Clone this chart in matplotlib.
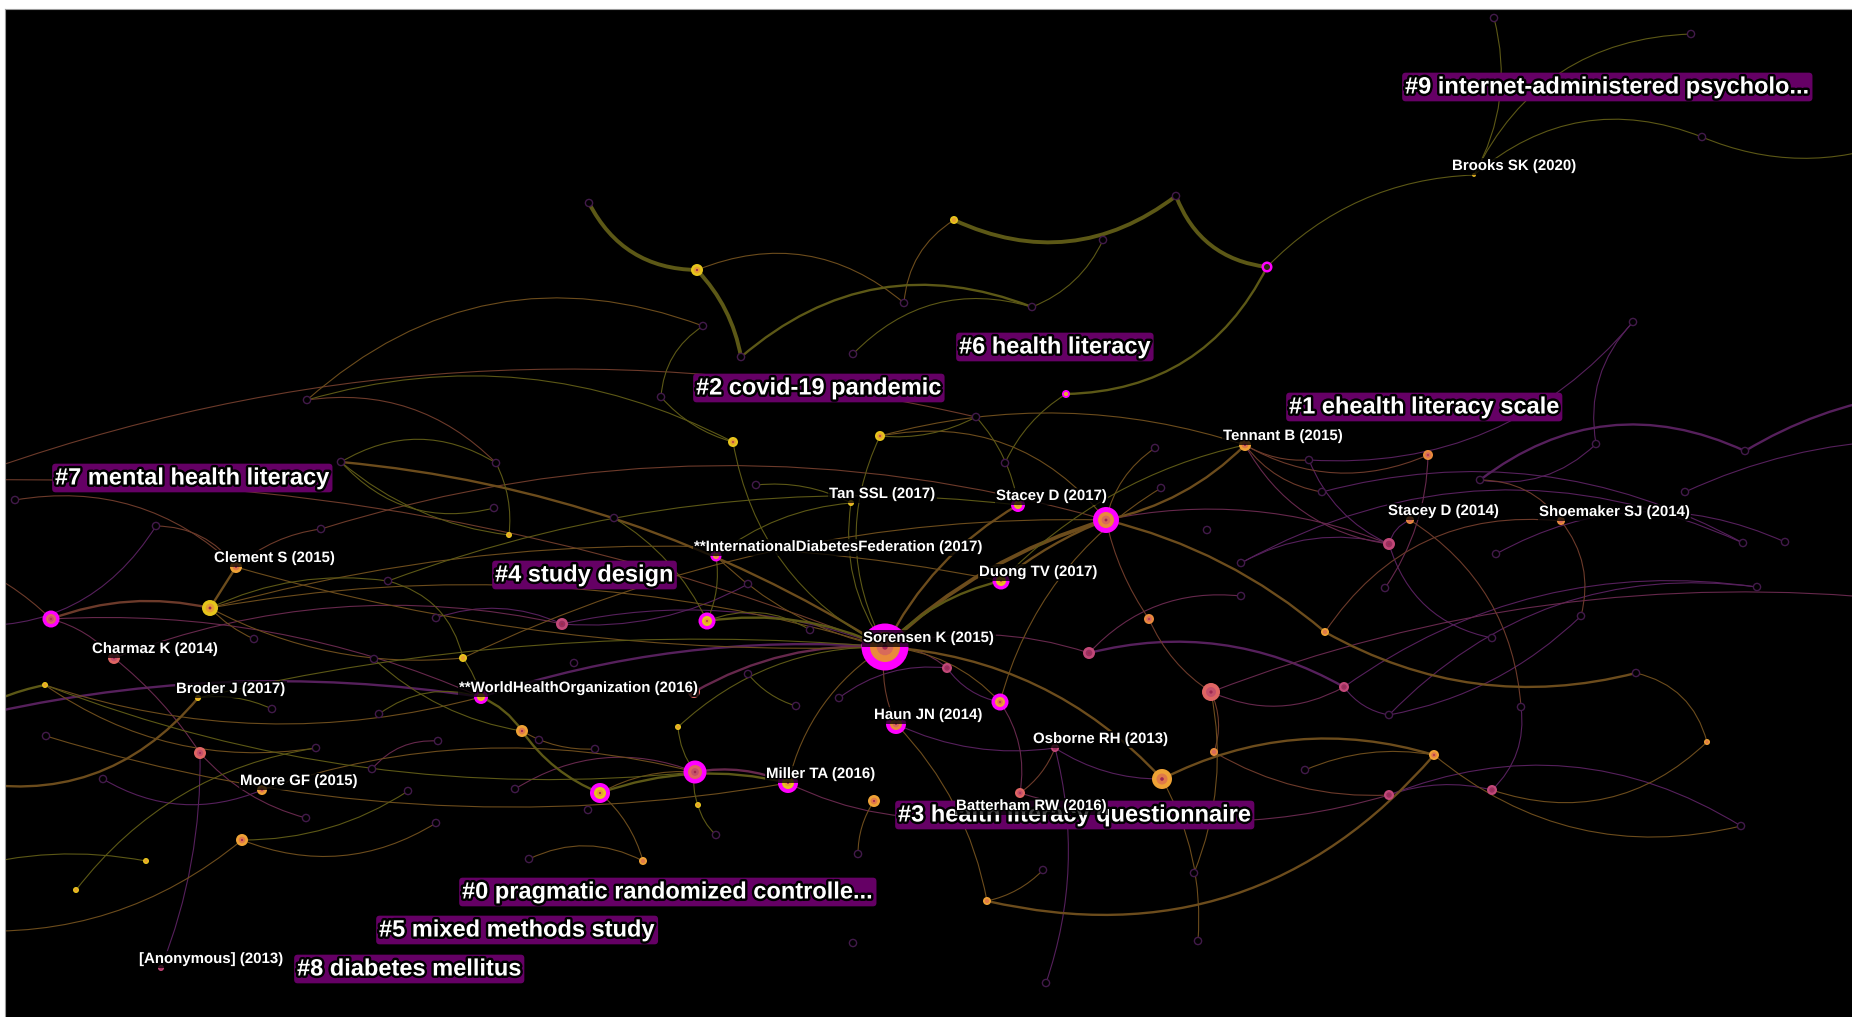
import matplotlib.pyplot as plt
import matplotlib.patheffects as pe
from matplotlib.patches import Circle, FancyArrowPatch

# ---- cited references (nodes) ----
node_id = ["sor", "cle", "n1", "n2", "cha", "n3", "bro", "n4", "moo", "n5",
           "n6", "n7", "ano", "who", "n8", "n9", "n10", "n11", "n12", "n13",
           "n14", "n15", "n16", "n17", "idf", "tan", "n18", "n19", "n20", "n21",
           "n22", "n23", "sta17", "n24", "duo", "n25", "n26", "n27", "hau", "n28",
           "mil", "n29", "osb", "bat", "n30", "n31", "n32", "n33", "n34", "n35",
           "n36", "n37", "n38", "n39", "n40", "n41", "ten", "n42", "sta14", "n43",
           "sho", "bks"]
node_x = [885, 236, 210, 51, 114, 45, 198, 200, 262, 242,
          146, 76, 161, 481, 463, 522, 600, 678, 698, 695,
          694, 707, 562, 509, 716, 851, 733, 880, 697, 954,
          1267, 1066, 1018, 1106, 1001, 1149, 947, 1000, 896, 1089,
          788, 874, 1055, 978, 1020, 1162, 1211, 1214, 1325, 1344,
          1389, 1434, 1492, 1707, 987, 643, 1245, 1428, 1410, 1389,
          1561, 1474]
node_y = [647, 567, 608, 619, 658, 685, 698, 753, 790, 840,
          861, 890, 968, 697, 658, 731, 793, 727, 805, 772,
          692, 621, 624, 535, 556, 503, 442, 436, 270, 220,
          267, 394, 505, 520, 581, 619, 668, 702, 724, 653,
          783, 801, 748, 815, 793, 779, 692, 752, 632, 687,
          795, 755, 790, 742, 901, 861, 445, 455, 520, 544,
          521, 175]
node_size = [15, 6, 8, 5, 6, 3, 3, 6, 5, 6,
             3, 3, 3, 4, 4, 6, 6, 3, 3, 7,
             6, 5, 6, 3, 3, 3, 5, 5, 6, 4,
             3, 2, 4, 8, 5, 5, 5, 5, 6, 6,
             6, 6, 4, 4, 5, 10, 9, 4, 4, 5,
             5, 5, 5, 3, 4, 4, 6, 5, 4, 6,
             4, 2]
node_year = [2015, 2016, 2017, 2014, 2014, 2017, 2017, 2014, 2016, 2016,
             2017, 2017, 2013, 2017, 2017, 2016, 2017, 2017, 2017, 2014,
             2014, 2017, 2013, 2017, 2016, 2017, 2017, 2017, 2017, 2017,
             2018, 2017, 2017, 2015, 2017, 2015, 2013, 2016, 2015, 2013,
             2017, 2016, 2013, 2014, 2014, 2016, 2014, 2015, 2016, 2013,
             2013, 2016, 2013, 2016, 2016, 2016, 2016, 2015, 2015, 2013,
             2015, 2019]
node_central = [1, 0, 0, 1, 0, 0, 0, 0, 0, 0,
                0, 0, 0, 1, 0, 0, 1, 0, 0, 1,
                0, 1, 0, 0, 1, 0, 0, 0, 0, 0,
                1, 1, 1, 1, 1, 0, 0, 1, 1, 0,
                1, 0, 0, 0, 0, 0, 0, 0, 0, 0,
                0, 0, 0, 0, 0, 0, 0, 0, 0, 0,
                0, 0]
node_label = {"sor": "Sorensen K (2015)", "cle": "Clement S (2015)",
              "cha": "Charmaz K (2014)", "bro": "Broder J (2017)",
              "moo": "Moore GF (2015)", "ano": "[Anonymous] (2013)",
              "who": "**WorldHealthOrganization (2016)",
              "idf": "**InternationalDiabetesFederation (2017)",
              "tan": "Tan SSL (2017)", "sta17": "Stacey D (2017)",
              "duo": "Duong TV (2017)", "hau": "Haun JN (2014)",
              "mil": "Miller TA (2016)", "osb": "Osborne RH (2013)",
              "bat": "Batterham RW (2016)", "ten": "Tennant B (2015)",
              "sta14": "Stacey D (2014)", "sho": "Shoemaker SJ (2014)",
              "bks": "Brooks SK (2020)"}

# small references without label (drawn as hollow rings)
hollow_x = [589, 1176, 1103, 904, 1032, 703, 741, 853, 661, 976,
            1005, 1155, 1494, 1691, 1702, 307, 341, 15, 156, 321,
            496, 494, 388, 436, 254, 374, 272, 379, 46, 316,
            438, 103, 372, 408, 515, 306, 436, 574, 595, 614,
            756, 748, 810, 748, 796, 839, 539, 588, 716, 529,
            858, 853, 1046, 1043, 1194, 1198, 1309, 1322, 1596, 1745,
            1685, 1480, 1785, 1743, 1496, 1241, 1241, 1385, 1757, 1581,
            1492, 1636, 1389, 1521, 1305, 1741, 1161, 1207, 1633]
hollow_y = [203, 196, 240, 303, 307, 326, 357, 354, 397, 417,
            463, 448, 18, 34, 137, 400, 462, 500, 526, 529,
            463, 508, 581, 618, 639, 659, 709, 714, 736, 748,
            741, 779, 769, 791, 789, 818, 823, 663, 749, 518,
            485, 584, 630, 674, 706, 698, 740, 810, 835, 859,
            854, 943, 983, 870, 873, 941, 460, 492, 444, 451,
            492, 480, 542, 543, 554, 563, 596, 588, 587, 616,
            638, 673, 715, 707, 770, 826, 488, 530, 322]

# links leaving the visible area
outer_x = [1900, 1900, 1900, 1900, -40, -40, -40, -40, -40, -40, 1100, -40]
outer_y = [140, 395, 440, 600, 560, 625, 720, 780, 870, 930, 1070, 480]

# co-citation links, grouped by year: (from, to, bend, strength)
edges_2013 = [("who", "sor", -0.1, 2), ("x7", "who", -0.1, 2), ("n16", "h24", 0.2, 1),
              ("n16", "sor", -0.15, 1), ("hau", "osb", 0.15, 1), ("n26", "n27", 0.2, 1),
              ("n28", "n35", -0.2, 2), ("n36", "n38", -0.15, 1), ("h62", "h60", -0.3, 2),
              ("h60", "x2", -0.1, 2), ("h61", "x3", -0.1, 1), ("h63", "h65", 0.25, 1),
              ("h64", "h58", 0.2, 1), ("h69", "h73", 0.25, 1), ("h70", "h73", -0.15, 1),
              ("n43", "h66", 0.2, 1), ("sta14", "n43", 0.25, 1), ("ano", "n4", 0.1, 1),
              ("moo", "h32", -0.25, 1), ("n38", "h74", 0.25, 1), ("osb", "n31", 0.15, 1),
              ("n26", "h46", 0.2, 1), ("h79", "h59", 0.25, 1), ("h79", "h57", -0.25, 1),
              ("n35", "h73", 0.2, 1), ("h57", "n43", 0.2, 1), ("h42", "n16", -0.15, 1),
              ("h76", "n36", 0.25, 1), ("h53", "osb", 0.15, 1), ("x6", "h19", 0.3, 1),
              ("n43", "h71", 0.3, 1), ("h59", "h62", -0.25, 1), ("n35", "h69", -0.2, 1),
              ("h66", "h64", -0.25, 1)]
edges_2014 = [("n2", "cha", -0.15, 1), ("n2", "who", -0.12, 1), ("n4", "h36", 0.15, 1),
              ("n4", "cha", 0.08, 1), ("cha", "n16", -0.15, 1), ("n14", "sor", -0.15, 2),
              ("n13", "mil", -0.15, 2), ("bat", "mil", -0.15, 1), ("n30", "n27", 0.2, 1),
              ("n32", "n35", 0.25, 1), ("n32", "x4", -0.12, 1), ("ten", "n43", 0.25, 1),
              ("n43", "n24", 0.15, 1), ("sor", "n26", -0.2, 1), ("sor", "n28", -0.15, 1),
              ("h67", "n28", 0.25, 1), ("h68", "n42", 0.15, 1), ("n36", "n30", -0.15, 1),
              ("n13", "h35", 0.25, 1), ("h31", "h33", 0.25, 1)]
edges_2015 = [("h18", "cle", -0.25, 1), ("h19", "cle", -0.25, 1), ("h20", "cle", 0.15, 1),
              ("n1", "n2", 0.15, 2), ("n2", "x5", 0.1, 1), ("x12", "sor", -0.1, 1),
              ("h16", "h21", -0.25, 1), ("h20", "n24", -0.15, 1), ("sor", "hau", 0.15, 1),
              ("n42", "ten", -0.25, 1), ("ten", "h57", 0.15, 1), ("sho", "n34", 0.3, 1),
              ("sho", "h70", -0.25, 1), ("sho", "h62", 0.25, 1), ("n24", "n25", 0.1, 1),
              ("n25", "n32", 0.15, 1), ("n33", "n32", 0.2, 1), ("n33", "n36", 0.15, 1),
              ("sta14", "h74", -0.25, 1), ("n30", "osb", 0.15, 1), ("ten", "h58", 0.2, 1),
              ("x12", "h10", -0.15, 1)]
edges_2016 = [("h16", "h6", -0.3, 1), ("n20", "h4", -0.3, 1), ("n21", "h4", 0.25, 1),
              ("cle", "n1", 0.0, 2), ("n1", "h25", 0.1, 1), ("n1", "n8", 0.15, 1),
              ("bro", "x8", -0.3, 2), ("n3", "h30", 0.2, 1), ("n3", "who", 0.15, 1),
              ("moo", "n13", -0.15, 1), ("n5", "x10", -0.2, 1), ("n5", "h37", 0.25, 1),
              ("n10", "n13", -0.15, 1), ("idf", "sor", 0.15, 1), ("sta17", "sor", 0.15, 2),
              ("n24", "sor", 0.12, 3), ("n24", "duo", 0.08, 2), ("n24", "ten", 0.15, 2),
              ("sor", "mil", 0.2, 1), ("sor", "n31", -0.2, 2), ("sor", "h17", 0.12, 2),
              ("sor", "cle", -0.08, 1), ("sor", "n1", 0.12, 1), ("n1", "duo", -0.12, 1),
              ("n8", "n24", -0.12, 1), ("h29", "mil", 0.12, 1), ("n31", "n37", -0.2, 2),
              ("n34", "h72", 0.2, 2), ("n24", "n34", -0.12, 2),
              ("n40", "n37", 0.3, 2), ("n38", "n39", 0.3, 1), ("n39", "h72", 0.3, 1),
              ("n37", "h76", 0.25, 1), ("n37", "h75", 0.15, 1), ("n41", "n10", 0.15, 1),
              ("n41", "h50", 0.25, 1), ("n29", "h51", 0.15, 1), ("n40", "h54", 0.15, 1),
              ("n40", "hau", 0.15, 1), ("ten", "n19", 0.15, 1), ("n9", "h39", 0.15, 1),
              ("n27", "sor", 0.2, 1), ("h56", "n31", 0.15, 1), ("h55", "n32", 0.15, 1),
              ("n19", "n24", -0.3, 1), ("h12", "n24", 0.2, 1), ("h77", "n27", 0.2, 1)]
edges_2017 = [("h1", "n20", 0.3, 3), ("n20", "h7", -0.15, 3), ("n21", "h2", 0.3, 3),
              ("h2", "n22", 0.3, 3), ("n22", "n23", -0.3, 2), ("h3", "h5", -0.2, 1),
              ("h7", "h5", -0.3, 2), ("h8", "h5", -0.3, 1), ("n23", "h11", 0.15, 1),
              ("h6", "h9", 0.25, 1), ("h9", "n18", 0.15, 1), ("h17", "h21", -0.3, 1),
              ("h17", "h22", 0.3, 1), ("n3", "x7", 0.1, 2), ("n6", "x9", 0.12, 1),
              ("n7", "h30", -0.2, 1), ("who", "n8", 0.1, 1), ("who", "n9", -0.15, 2),
              ("who", "h28", 0.25, 1), ("n8", "h23", 0.3, 1), ("n9", "n10", 0.15, 2),
              ("n10", "mil", -0.15, 2), ("n11", "sor", -0.2, 1), ("n11", "n13", 0.15, 1),
              ("n13", "n12", 0.15, 1), ("n15", "sor", -0.15, 2), ("n15", "idf", 0.15, 1),
              ("n15", "h40", 0.15, 1), ("n17", "h21", 0.15, 1), ("n17", "h17", -0.15, 1),
              ("idf", "tan", -0.15, 1), ("tan", "sor", 0.2, 1), ("tan", "h41", 0.15, 1),
              ("n18", "sor", 0.25, 1), ("n19", "h10", 0.15, 1), ("n19", "sor", 0.25, 1),
              ("sta17", "h10", 0.15, 1), ("duo", "sor", 0.15, 2), ("duo", "ten", -0.15, 1),
              ("bro", "sor", -0.08, 1), ("n3", "n13", 0.12, 1), ("h23", "sta17", -0.12, 1),
              ("h26", "n9", 0.15, 1), ("h27", "bro", 0.15, 1), ("n12", "h49", 0.15, 1),
              ("n1", "h23", -0.15, 1), ("h43", "n15", 0.25, 1), ("h44", "h45", 0.15, 1),
              ("n5", "h34", 0.15, 1), ("h16", "n18", -0.2, 1)]
edges_2018 = [("n22", "bks", -0.2, 1), ("h13", "bks", -0.2, 1), ("h14", "bks", 0.3, 1),
              ("bks", "h15", -0.3, 1), ("h15", "x1", 0.2, 1)]

# cluster labels
cluster_text = ["#9 internet-administered psycholo...", "#6 health literacy",
                "#2 covid-19 pandemic", "#1 ehealth literacy scale",
                "#7 mental health literacy", "#4 study design",
                "#3 health literacy questionnaire", "#0 pragmatic randomized controlle...",
                "#5 mixed methods study", "#8 diabetes mellitus"]
cluster_x = [1402, 956, 693, 1286, 52, 492, 895, 459, 376, 294]
cluster_y = [87, 347, 388, 407, 478, 575, 815, 892, 930, 969]

year_color = {2013: "#c24878", 2014: "#df6563", 2015: "#e88a3c", 2016: "#eea235",
              2017: "#e6c51c", 2018: "#2a2a0c", 2019: "#d0b020"}
year_inner = {2013: "#9a3060", 2014: "#c4506a", 2015: "#d86a5a", 2016: "#e07a48",
              2017: "#e8a030", 2018: "#2a2a0c", 2019: "#e0a020"}
edge_color = {2013: "#56205c", 2014: "#66284c", 2015: "#6c3a2a", 2016: "#6c4c1c",
              2017: "#5c5816", 2018: "#5c5816"}
edge_lw = {1: 0.8, 2: 1.7, 3: 2.8}

pos = {}
for i, k in enumerate(node_id):
    pos[k] = (node_x[i], node_y[i])
for i in range(len(hollow_x)):
    pos["h%d" % (i + 1)] = (hollow_x[i], hollow_y[i])
for i in range(len(outer_x)):
    pos["x%d" % (i + 1)] = (outer_x[i], outer_y[i])

fig = plt.figure(figsize=(18.52, 10.17), dpi=100)
fig.patch.set_facecolor("white")
ax = fig.add_axes([5 / 1852, 0, 1847 / 1852, 1008 / 1017])
ax.set_facecolor("black")
ax.set_xlim(5, 1852)
ax.set_ylim(1017, 9)
ax.set_xticks([])
ax.set_yticks([])
for s in ["right", "bottom"]:
    ax.spines[s].set_visible(False)
for s in ["top", "left"]:
    ax.spines[s].set_color("#9a9a9a")
    ax.spines[s].set_linewidth(0.8)

# links
for year, group in [(2013, edges_2013), (2014, edges_2014), (2015, edges_2015),
                    (2016, edges_2016), (2017, edges_2017), (2018, edges_2018)]:
    for a, b, bend, w in group:
        p = FancyArrowPatch(pos[a], pos[b], connectionstyle="arc3,rad=%s" % bend,
                            arrowstyle="-", color=edge_color[year], lw=edge_lw[w],
                            shrinkA=0, shrinkB=0, zorder=1)
        ax.add_patch(p)

# hollow nodes
for x, y in zip(hollow_x, hollow_y):
    ax.add_patch(Circle((x, y), 3.6, fc="black", ec="#421a4a", lw=1.0, zorder=2))

# filled nodes
for i in range(len(node_id)):
    x, y, r = node_x[i], node_y[i], node_size[i]
    yr = node_year[i]
    if node_central[i]:
        ax.add_patch(Circle((x, y), r * 1.5 + 1, fc="#ff00ff", ec="none", zorder=3))
    ax.add_patch(Circle((x, y), r, fc=year_color[yr], ec="none", zorder=3))
    ax.add_patch(Circle((x, y), r * 0.55, fc=year_inner[yr], ec="none", zorder=3))
    if r >= 5:
        ax.add_patch(Circle((x, y), r * 0.18, fc="#a02850", ec="none", zorder=3))

# cluster labels
for t, x, y in zip(cluster_text, cluster_x, cluster_y):
    txt = ax.text(x + 3, y, t, color="white", fontsize=17, fontweight="bold",
                  family=["Liberation Sans", "DejaVu Sans"], ha="left", va="center",
                  zorder=4,
                  bbox=dict(boxstyle="round,pad=0.12,rounding_size=0.15",
                            fc="#650065", ec="none"))
    txt.set_path_effects([pe.withStroke(linewidth=3.5, foreground="black")])

# reference labels
for i, k in enumerate(node_id):
    if k not in node_label:
        continue
    txt = ax.text(node_x[i] - 22, node_y[i] - 9, node_label[k], color="white",
                  fontsize=10.8, fontweight="bold",
                  family=["Liberation Sans", "DejaVu Sans"], ha="left", va="center",
                  zorder=5,
                  bbox=dict(boxstyle="square,pad=0.1", fc="black", ec="none", alpha=0.75))
    txt.set_path_effects([pe.withStroke(linewidth=2, foreground="black")])

fig.savefig("out.png", dpi=100)
